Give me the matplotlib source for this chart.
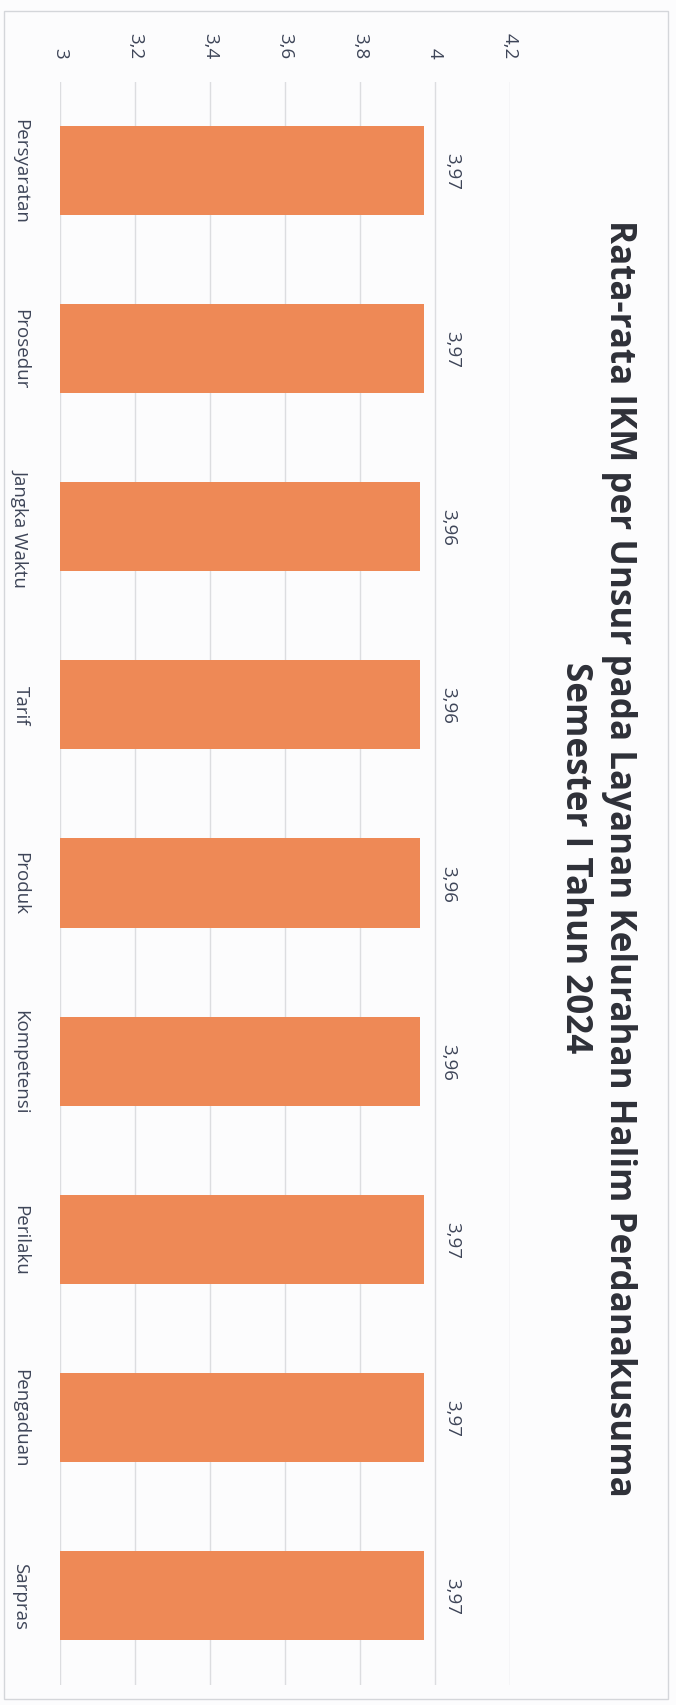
import numpy as np
import matplotlib.pyplot as plt
from matplotlib.patches import Rectangle
from matplotlib.ticker import FuncFormatter

plt.rcParams['font.family'] = ['Open Sans', 'DejaVu Sans']

# data
unsur = ['Persyaratan', 'Prosedur', 'Jangka Waktu', 'Tarif', 'Produk',
         'Kompetensi', 'Perilaku', 'Pengaduan', 'Sarpras']
nilai = [3.97, 3.97, 3.96, 3.96, 3.96, 3.96, 3.97, 3.97, 3.97]
ticks = [3.0, 3.2, 3.4, 3.6, 3.8, 4.0, 4.2]
judul = ('Rata-rata IKM per Unsur pada Layanan Kelurahan Halim Perdanakusuma\n'
         'Semester I Tahun 2024')

bar_color = '#EE8956'
text_color = '#3E4558'

fig = plt.figure(figsize=(6.76, 17.06), dpi=100)
fig.patch.set_facecolor('#FCFCFD')

# chart frame (the scanned excel chart border)
fig.patches.append(Rectangle((4/676, 1 - 1700/1706), 664/676, 1688/1706,
                             transform=fig.transFigure, fill=False,
                             edgecolor='#D4D6DA', linewidth=1.0))

ax = fig.add_axes([60/676, 1 - 1685.5/1706, 450/676, 1603/1706])
ax.set_facecolor('none')

y = np.arange(len(unsur))
ax.barh(y, [v - 3 for v in nilai], left=3, height=0.5, color=bar_color, zorder=2)

ax.set_xlim(3, 4.2)
ax.set_ylim(len(unsur) - 0.5, -0.5)
ax.set_xticks(ticks)
ax.xaxis.set_major_formatter(FuncFormatter(lambda v, p: f'{v:g}'.replace('.', ',')))
ax.xaxis.tick_top()
ax.tick_params(axis='x', length=0, pad=17, labelsize=13.5, labelcolor=text_color)
for lab in ax.get_xticklabels():
    lab.set_rotation(-90)
    lab.set_ha('center')
    lab.set_va('bottom')

ax.set_yticks(y)
ax.set_yticklabels(unsur, rotation=-90, ha='right', va='center')
ax.tick_params(axis='y', length=0, pad=22, labelsize=13.5, labelcolor=text_color)

ax.grid(axis='x', color='#DCDDE0', linewidth=1, zorder=0)
for s in ax.spines.values():
    s.set_visible(False)

for i, v in enumerate(nilai):
    ax.annotate(f'{v:.2f}'.replace('.', ','), (v, i), xytext=(14, 0),
                textcoords='offset points', rotation=-90, ha='left', va='center',
                fontsize=13.5, color=text_color)

fig.text(597/676, 1 - 858/1706, judul, rotation=-90, ha='center', va='center',
         multialignment='center', fontsize=25.2, fontweight='bold',
         color='#2E3038', linespacing=1.32)

fig.savefig('out.png', dpi=100, facecolor=fig.get_facecolor())
